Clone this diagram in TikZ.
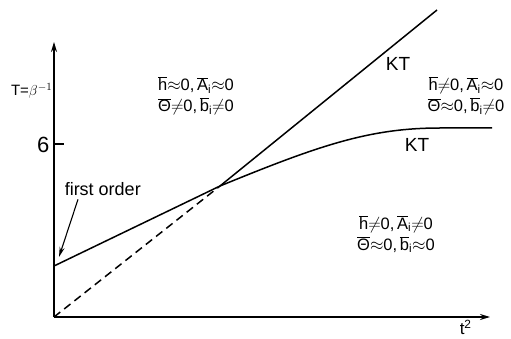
\documentclass[tikz,border=0pt]{standalone}
\usepackage{fontspec}
\setmainfont{Liberation Sans}
\usetikzlibrary{arrows.meta}
\newcommand{\ob}[1]{$\overline{\hbox{#1}}$}

\begin{document}
\begin{tikzpicture}[x=1pt,y=-1pt,line width=1.5pt,
  lab/.style={align=center,font=\fontsize{16.5}{21}\selectfont,inner sep=0pt},
  kt/.style={font=\fontsize{19}{20}\selectfont,inner sep=0pt}]
  \useasboundingbox (0,0) rectangle (511,339);
  % axes
  \coordinate (O) at (54,317);
  \coordinate (ytop) at (54,42);
  \coordinate (xend) at (490,317);
  \draw[-{Stealth[length=10pt,width=6pt]}] (O) -- (ytop);
  \draw[-{Stealth[length=10pt,width=6pt]}] (O) -- (xend);
  \coordinate (six) at (54,144);
  \coordinate (sixr) at (64,144);
  \draw (six) -- (sixr);
  \node[anchor=east,font=\fontsize{22}{22}\selectfont,inner sep=0pt] (sixlab) at (50,145) {6};
  \node[anchor=east,font=\fontsize{15}{15}\selectfont,inner sep=0pt] (Tlab) at (53,91) {T=$\beta^{-1}$};
  \node[anchor=north west,font=\fontsize{17}{17}\selectfont,inner sep=0pt] (tlab) at (459,319) {t\textsuperscript{2}};
  % transition lines
  \coordinate (A) at (54,266);
  \coordinate (X) at (220,186);
  \coordinate (Ktop) at (437,10);
  \coordinate (Kend) at (492,128);
  \draw (A) -- (X);
  \draw[dashed,dash pattern=on 8pt off 5pt] (O) -- (X);
  \draw (X) -- (Ktop);
  \draw (X) .. controls (320,145) and (370,128) .. (440,128) -- (Kend);
  \node[kt] (KTup) at (398,64) {KT};
  \node[kt] (KTlow) at (417,145) {KT};
  % first order
  \node[anchor=west,font=\fontsize{18}{18}\selectfont,inner sep=0pt] (fo) at (64,189) {first order};
  \coordinate (foend) at (59,257);
  \draw[line width=1.1pt,-{Stealth[length=10pt,width=5pt]}] (fo.south west) ++(14,3) -- (foend);
  % phases
  \node[lab] (ph1) at (196,96) {\ob{h}$\approx$0,\,\ob{A}\textsubscript{i}$\approx$0\\ \ob{Θ}$\neq$0,\,\ob{b}\textsubscript{i}$\neq$0};
  \node[lab] (ph2) at (466,96) {\ob{h}$\neq$0,\,\ob{A}\textsubscript{i}$\approx$0\\ \ob{Θ}$\approx$0,\,\ob{b}\textsubscript{i}$\neq$0};
  \node[lab] (ph3) at (396,234) {\ob{h}$\neq$0,\,\ob{A}\textsubscript{i}$\neq$0\\ \ob{Θ}$\approx$0,\,\ob{b}\textsubscript{i}$\approx$0};
\end{tikzpicture}
\end{document}
